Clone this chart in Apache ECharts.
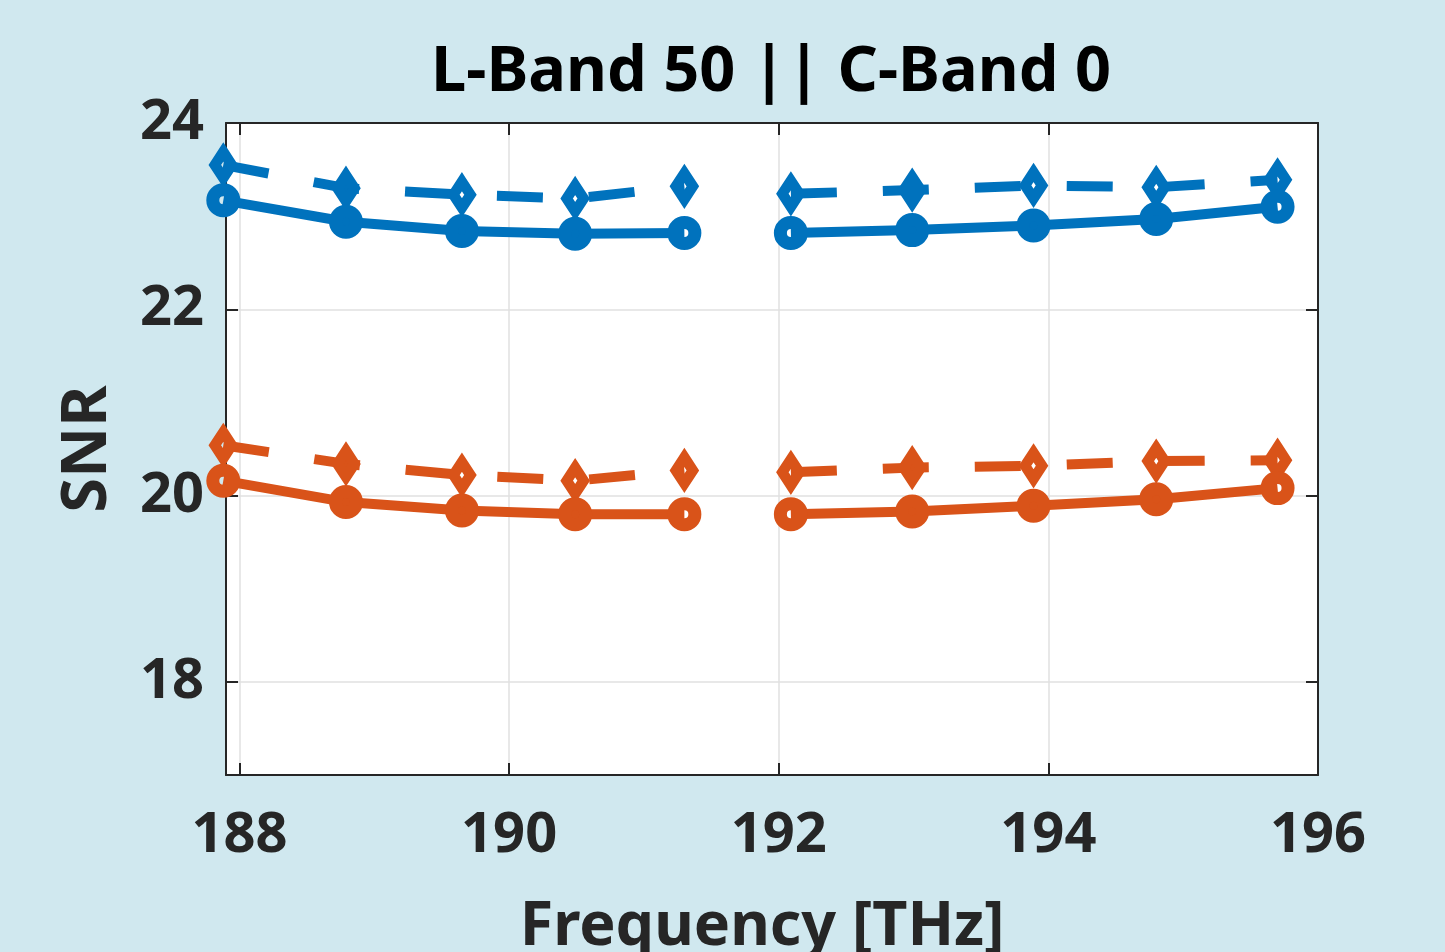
<!DOCTYPE html>
<html>
<head>
<meta charset="utf-8">
<title>L-Band 50 || C-Band 0</title>
<script src="https://cdn.jsdelivr.net/npm/echarts@6.0.0/dist/echarts.min.js"></script>
<style>
  html, body { margin: 0; padding: 0; background: #d0e8ef; }
  #chartSnr { width: 1445px; height: 952px; }
</style>
</head>
<body>
<div id="chartSnr"></div>
<script>
// channel frequencies [THz]: L-band block, then C-band block (gap in between)
var freqL = [187.88, 188.79, 189.65, 190.49, 191.30];
var freqC = [192.09, 192.99, 193.89, 194.80, 195.70];

// SNR
var blueSolidL = [23.17, 22.94, 22.84, 22.81, 22.82];
var blueSolidC = [22.82, 22.85, 22.90, 22.97, 23.10];
var blueDashL  = [23.55, 23.30, 23.23, 23.19, 23.32];
var blueDashC  = [23.24, 23.28, 23.33, 23.31, 23.39];
var redSolidL  = [20.16, 19.93, 19.84, 19.80, 19.80];
var redSolidC  = [19.80, 19.83, 19.89, 19.96, 20.08];
var redDashL   = [20.54, 20.34, 20.22, 20.16, 20.27];
var redDashC   = [20.25, 20.30, 20.32, 20.37, 20.38];

var BLUE = "#0072bd";
var RED = "#d95319";
var INK = "#262626";
var FONT = "Noto Sans";

function joinBlocks(yl, yc) {
  var d = [];
  for (var i = 0; i < freqL.length; i++) d.push([freqL[i], yl[i]]);
  d.push(["-", "-"]); // break the line between the two bands
  for (var j = 0; j < freqC.length; j++) d.push([freqC[j], yc[j]]);
  return d;
}

function lineSeries(yl, yc, color, dashed) {
  return {
    type: "line",
    data: joinBlocks(yl, yc),
    clip: false,
    symbol: dashed ? "diamond" : "circle",
    symbolSize: dashed ? [17, 26] : 21,
    lineStyle: { color: color, width: 10, type: dashed ? [46, 46] : "solid", cap: "butt" },
    itemStyle: { color: "rgba(0,0,0,0)", borderColor: color, borderWidth: dashed ? 11 : 13, borderJoin: "miter" },
    emphasis: { disabled: true },
    z: dashed ? 2 : 3
  };
}

var chart = echarts.init(document.getElementById("chartSnr"));

var tickLabel = { color: INK, fontFamily: FONT, fontWeight: "bold", fontSize: 56 };

chart.setOption({
  backgroundColor: "#d0e8ef",
  animation: false,
  title: {
    text: "L-Band 50 || C-Band 0",
    left: 766,
    top: 37,
    textAlign: "center",
    textStyle: { color: "#000", fontFamily: FONT, fontWeight: "bold", fontSize: 63 }
  },
  grid: {
    left: 226, right: 127, top: 123, bottom: 177,
    outerBoundsMode: "none",
    show: true, backgroundColor: "#fff", borderWidth: 0
  },
  xAxis: [
    {
      type: "value", min: 187.9, max: 196, splitNumber: 4,
      name: "Frequency [THz]", nameLocation: "middle", nameGap: 122,
      nameTextStyle: { color: INK, fontFamily: FONT, fontWeight: "bold", fontSize: 61, padding: [0, 20, 0, 0] },
      axisLine: { show: true, onZero: false, lineStyle: { color: INK, width: 2 } },
      axisTick: { show: true, inside: true, length: 12, lineStyle: { color: INK, width: 2 } },
      axisLabel: Object.assign({ margin: 33, showMinLabel: false }, tickLabel),
      splitLine: { show: true, lineStyle: { color: "#e1e1e1", width: 1.5 } }
    },
    {
      type: "value", min: 187.9, max: 196, splitNumber: 4, position: "top",
      axisLine: { show: true, onZero: false, lineStyle: { color: INK, width: 2 } },
      axisTick: { show: true, inside: true, length: 12, lineStyle: { color: INK, width: 2 } },
      axisLabel: { show: false },
      splitLine: { show: false }
    }
  ],
  yAxis: [
    {
      type: "value", min: 17, max: 24, splitNumber: 4,
      name: "SNR", nameLocation: "middle", nameGap: 106, nameRotate: 90,
      nameTextStyle: { color: INK, fontFamily: FONT, fontWeight: "bold", fontSize: 63 },
      axisLine: { show: true, onZero: false, lineStyle: { color: INK, width: 2 } },
      axisTick: { show: true, inside: true, length: 12, lineStyle: { color: INK, width: 2 } },
      axisLabel: Object.assign({ margin: 22, showMinLabel: false, padding: [9, 0, 0, 0] }, tickLabel),
      splitLine: { show: true, lineStyle: { color: "#e1e1e1", width: 1.5 } }
    },
    {
      type: "value", min: 17, max: 24, splitNumber: 4, position: "right",
      axisLine: { show: true, onZero: false, lineStyle: { color: INK, width: 2 } },
      axisTick: { show: true, inside: true, length: 12, lineStyle: { color: INK, width: 2 } },
      axisLabel: { show: false },
      splitLine: { show: false }
    }
  ],
  series: [
    lineSeries(blueDashL, blueDashC, BLUE, true),
    lineSeries(redDashL, redDashC, RED, true),
    lineSeries(blueSolidL, blueSolidC, BLUE, false),
    lineSeries(redSolidL, redSolidC, RED, false)
  ]
});
</script>
</body>
</html>
